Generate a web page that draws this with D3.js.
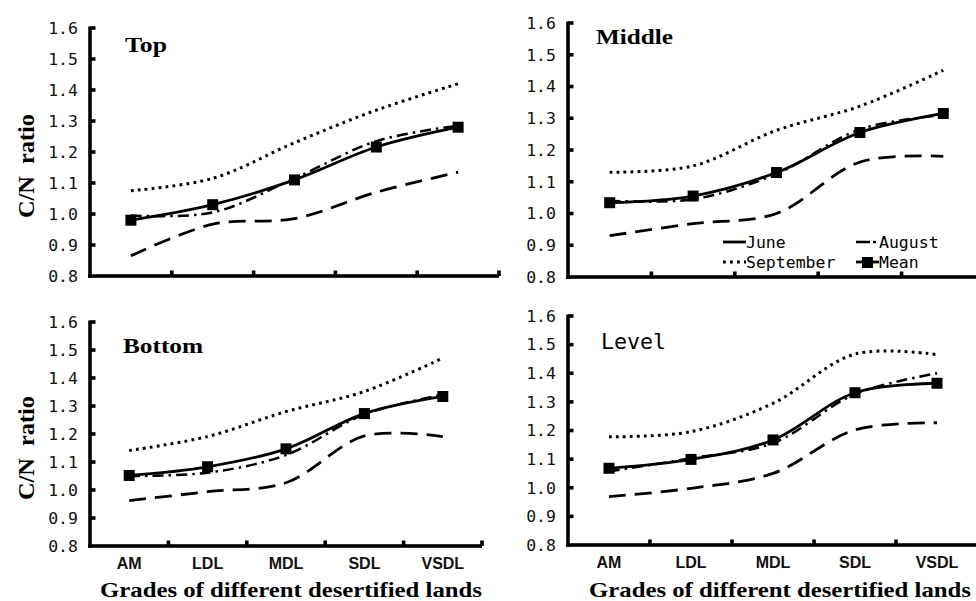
<!DOCTYPE html>
<html>
<head>
<meta charset="utf-8">
<script src="https://cdn.jsdelivr.net/npm/d3@7"></script>
<style>
  html, body { margin: 0; padding: 0; background: #fff; }
  svg { display: block; }
</style>
</head>
<body>
<svg id="chart" width="976" height="601"></svg>
<script>
// ---- data ----
const categories = ["AM", "LDL", "MDL", "SDL", "VSDL"];
const yTicks = [0.8, 0.9, 1.0, 1.1, 1.2, 1.3, 1.4, 1.5, 1.6];
const seriesNames = ["June", "August", "September", "Mean"];

const topJune      = [0.865, 0.967, 0.985, 1.07, 1.135];
const topAugust    = [0.995, 1.005, 1.115, 1.235, 1.285];
const topSeptember = [1.075, 1.115, 1.23, 1.335, 1.42];
const topMean      = [0.98, 1.03, 1.11, 1.216, 1.28];

const middleJune      = [0.93, 0.968, 1.0, 1.162, 1.18];
const middleAugust    = [1.04, 1.045, 1.125, 1.265, 1.31];
const middleSeptember = [1.13, 1.15, 1.262, 1.338, 1.451];
const middleMean      = [1.034, 1.055, 1.129, 1.255, 1.315];

const bottomJune      = [0.962, 0.994, 1.026, 1.193, 1.191];
const bottomAugust    = [1.05, 1.062, 1.125, 1.27, 1.34];
const bottomSeptember = [1.141, 1.191, 1.28, 1.352, 1.471];
const bottomMean      = [1.052, 1.083, 1.147, 1.273, 1.334];

const levelJune      = [0.969, 0.998, 1.05, 1.202, 1.227];
const levelAugust    = [1.057, 1.103, 1.156, 1.327, 1.40];
const levelSeptember = [1.178, 1.196, 1.295, 1.467, 1.465];
const levelMean      = [1.068, 1.099, 1.167, 1.332, 1.365];

// ---- layout ----
const panels = [
  { title: "Top",    serif: true,  x0: 90,  x1: 499, yTop: 28,  yBot: 276, tx: 125, ty: 52, tw: 42, xc: 291,
    data: [topJune, topAugust, topSeptember, topMean], yLabel: true, xLabel: false, legend: false },
  { title: "Middle", serif: true,  x0: 568, x1: 985, yTop: 23,  yBot: 277, tx: 596, ty: 44, tw: 77, xc: 780,
    data: [middleJune, middleAugust, middleSeptember, middleMean], yLabel: false, xLabel: false, legend: true },
  { title: "Bottom", serif: true,  x0: 90,  x1: 482, yTop: 322, yBot: 546, tx: 123, ty: 353, tw: 80, xc: 291,
    data: [bottomJune, bottomAugust, bottomSeptember, bottomMean], yLabel: true, xLabel: true, legend: false },
  { title: "Level",  serif: false, x0: 568, x1: 978, yTop: 316, yBot: 545, tx: 601, ty: 349, tw: 65, xc: 780,
    data: [levelJune, levelAugust, levelSeptember, levelMean], yLabel: false, xLabel: true, legend: false }
];

const styles = [
  { dash: "17,9",       width: 2.8 },  // June: long dash
  { dash: "11,5,2.5,5", width: 2.5 },  // August: dash-dot
  { dash: "2.8,4.2",    width: 3.0 },  // September: dotted
  { dash: null,         width: 2.8 }   // Mean: solid with squares
];

const svg = d3.select("#chart");
const monoFont = "'DejaVu Sans Mono', 'Liberation Mono', monospace";
const serifFont = "'Liberation Serif', 'Times New Roman', serif";
const narrowFont = "'Liberation Sans Narrow', 'Arial Narrow', 'Liberation Sans', sans-serif";
const AXW = 3.6;

panels.forEach(p => {
  const g = svg.append("g");
  const x = d3.scaleBand().domain(categories).range([p.x0, p.x1]).padding(0);
  const xl = d3.scaleLinear().domain([0, categories.length]).range([p.x0, p.x1]);
  const y = d3.scaleLinear().domain([0.8, 1.6]).range([p.yBot, p.yTop]);
  const cx = d => x(d) + x.bandwidth() / 2;

  // y axis labels via d3 axis
  const yAxis = g.append("g").attr("transform", `translate(${p.x0},0)`)
    .call(d3.axisLeft(y).tickValues(yTicks).tickFormat(d3.format(".1f"))
      .tickSize(0).tickPadding(12));
  yAxis.select(".domain").remove();
  yAxis.selectAll(".tick text").style("fill", "#111")
    .style("font-family", monoFont).style("font-size", "16.5px");

  // axis lines and inward ticks drawn as filled rects
  const ax = g.append("g").attr("fill", "#000");
  ax.append("rect")
    .attr("x", p.x0 - AXW / 2).attr("y", y(1.6) - 1.5)
    .attr("width", AXW).attr("height", y(0.8) - y(1.6) + 1.5 + AXW / 2);
  ax.append("rect")
    .attr("x", p.x0 - AXW / 2).attr("y", y(0.8) - AXW / 2)
    .attr("width", xl(categories.length) - p.x0 + AXW / 2).attr("height", AXW);
  ax.selectAll("rect.yt").data(yTicks.slice(1)).enter().append("rect")
    .attr("class", "yt")
    .attr("x", p.x0).attr("y", d => y(d) - AXW / 2)
    .attr("width", 5.5).attr("height", AXW);
  ax.selectAll("rect.xt").data(d3.range(1, categories.length + 1)).enter().append("rect")
    .attr("class", "xt")
    .attr("x", d => xl(d) - AXW / 2).attr("y", y(0.8) - 5.5)
    .attr("width", AXW).attr("height", 5.5);

  if (p.xLabel) {
    const xLab = g.append("g").attr("transform", `translate(0,${p.yBot})`)
      .call(d3.axisBottom(x).tickSize(0).tickPadding(12));
    xLab.select(".domain").remove();
    xLab.selectAll(".tick text").style("fill", "#111")
      .style("font-family", narrowFont).style("font-weight", "bold").style("font-size", "16px");
    g.append("text")
      .attr("x", p.xc).attr("y", 597)
      .attr("text-anchor", "middle")
      .attr("textLength", 382).attr("lengthAdjust", "spacingAndGlyphs")
      .style("font-family", serifFont).style("font-weight", "bold").style("font-size", "21px")
      .text("Grades of different desertified lands");
  }

  if (p.yLabel) {
    const cy = (p.yTop + p.yBot) / 2 + 14;
    g.append("text")
      .attr("transform", `translate(34,${cy}) rotate(-90)`)
      .attr("text-anchor", "middle")
      .attr("textLength", 104).attr("lengthAdjust", "spacingAndGlyphs")
      .style("font-family", serifFont).style("font-weight", "bold").style("font-size", "24px")
      .style("white-space", "pre")
      .text("C/N  ratio");
  }

  // title
  g.append("text").attr("x", p.tx).attr("y", p.ty)
    .attr("textLength", p.tw).attr("lengthAdjust", "spacingAndGlyphs")
    .style("font-family", p.serif ? serifFont : monoFont)
    .style("font-weight", p.serif ? "bold" : "normal")
    .style("font-size", "21px")
    .text(p.title);

  // lines
  const line = d3.line()
    .x((d, i) => cx(categories[i]))
    .y(d => y(d))
    .curve(d3.curveCatmullRom.alpha(0.5));

  p.data.forEach((vals, si) => {
    const s = styles[si];
    g.append("path").datum(vals)
      .attr("d", line)
      .attr("fill", "none")
      .attr("stroke", "#000")
      .attr("stroke-width", s.width)
      .attr("stroke-dasharray", s.dash);
  });
  // mean markers
  g.selectAll("rect.mk").data(p.data[3]).enter().append("rect")
    .attr("class", "mk")
    .attr("x", (d, i) => cx(categories[i]) - 5.5)
    .attr("y", d => y(d) - 5.5)
    .attr("width", 11).attr("height", 11)
    .attr("fill", "#000");

  // legend
  if (p.legend) {
    const items = [
      { name: seriesNames[0], si: 0, lx: 723, ly: 248 },
      { name: seriesNames[1], si: 1, lx: 856, ly: 248 },
      { name: seriesNames[2], si: 2, lx: 723, ly: 268 },
      { name: seriesNames[3], si: 3, lx: 856, ly: 268 }
    ];
    const lg = g.append("g");
    items.forEach(it => {
      const s = styles[it.si];
      let dash = s.dash;
      if (it.si === 0) dash = null;
      if (it.si === 1) dash = "14,3,3,20";
      lg.append("line")
        .attr("x1", it.lx).attr("x2", it.lx + 23)
        .attr("y1", it.ly - 6).attr("y2", it.ly - 6)
        .attr("stroke", "#000").attr("stroke-width", s.width)
        .attr("stroke-dasharray", dash);
      if (it.si === 3) {
        lg.append("rect").attr("x", it.lx + 6).attr("y", it.ly - 11)
          .attr("width", 11).attr("height", 11).attr("fill", "#000");
      }
      lg.append("text").attr("x", it.lx + 23).attr("y", it.ly)
        .style("font-family", monoFont).style("font-size", "16.5px")
        .text(it.name);
    });
  }
});
</script>
</body>
</html>
